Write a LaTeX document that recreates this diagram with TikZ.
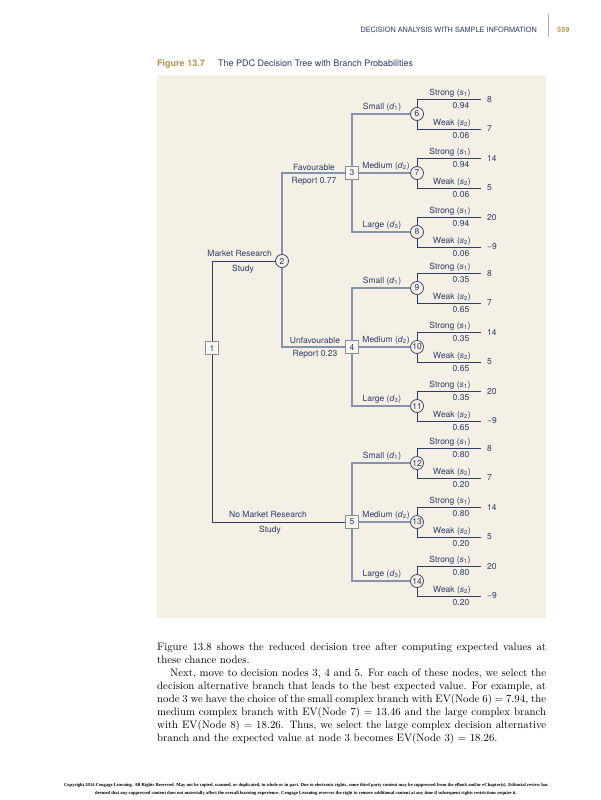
\documentclass[tikz,border=0pt]{standalone}
\usepackage{fontspec}
\newfontfamily\pdcsans{TeX Gyre Heros}
\newfontfamily\pdcfoot{Liberation Serif}
\usepackage{tikz}
\usetikzlibrary{positioning,calc}
\usepackage{xcolor}
\definecolor{pdcNavy}{HTML}{2E3B66}
\definecolor{pdcSlate}{HTML}{8593AE}
\definecolor{pdcGold}{HTML}{B39552}
\definecolor{pdcPanel}{HTML}{F5F0E6}
\definecolor{pdcBox}{HTML}{8B919C}
\definecolor{pdcRule}{HTML}{B0B0B0}
\newcommand\pdcsub[2]{(\textit{#1}\textsubscript{#2})}

\begin{document}
\begin{tikzpicture}[x=1pt,y=-1pt,
  every node/.style={font=\pdcsans\fontsize{8.5}{10}\selectfont,text=pdcNavy,inner sep=0pt},
  decbox/.style={draw=pdcBox,line width=0.9pt,fill=pdcPanel!50!white,minimum size=13pt},
  chance/.style={circle,draw=pdcNavy,line width=0.7pt,fill=pdcPanel,minimum size=13pt},
  lite/.style={draw=pdcSlate,line width=1.1pt},
  dark/.style={draw=pdcNavy,line width=0.9pt}]
\fill[white] (0,0) rectangle (600,800);
\useasboundingbox (0,0) rectangle (600,800);
% page header and caption
\node[anchor=base east,font=\pdcsans\fontsize{7.3}{9}\selectfont] (hdr) at (537,33) {DECISION ANALYSIS WITH SAMPLE INFORMATION};
\draw[pdcRule,line width=0.6pt] (548,14) -- (548,37);
\node[anchor=base west,font=\pdcsans\bfseries\fontsize{7.3}{9}\selectfont,text=pdcGold] (pg) at (557,33) {559};
\node[anchor=base west,font=\pdcsans\bfseries\fontsize{9}{11}\selectfont,text=pdcGold] (fig) at (157,66.5) {Figure 13.7};
\node[anchor=base west,font=\pdcsans\fontsize{9}{11}\selectfont] (cap) at (218,66.5) {The PDC Decision Tree with Branch Probabilities};
\fill[pdcPanel] (157,75) rectangle (546,618);
% first stages
\node[decbox] (d1) at (212,348) {1};
\node[chance] (c2) at (282,261) {2};
\node[decbox] (d3) at (352,173) {3};
\node[decbox] (d4) at (352,347) {4};
\node[decbox] (d5) at (352,522) {5};
\draw[dark] (d1) |- (c2);
\draw[dark] (d1) |- (d5);
\draw[lite] (c2) |- (d3);
\draw[lite] (c2) |- (d4);
\node[anchor=base east] (mr1) at (272,256.5) {Market Research};
\node[anchor=base] (mr2) at (243,271.5) {Study};
\node[anchor=base] (fav1) at (314,170.3) {Favourable};
\node[anchor=base] (fav2) at (314,183) {Report 0.77};
\node[anchor=base] (unf1) at (315,343) {Unfavourable};
\node[anchor=base] (unf2) at (315,356.5) {Report 0.23};
\node[anchor=base] (nmr1) at (268,517) {No Market Research};
\node[anchor=base] (nmr2) at (270,532) {Study};
% decisions, chance nodes and payoffs
\foreach \d/\yd/\ps/\pw [count=\g from 0] in {3/173/0.94/0.06,4/347/0.35/0.65,5/522/0.80/0.20}{
  \foreach \sz/\bx/\dy/\hi/\lo [count=\k from 0] in {Small \pdcsub{d}{1}/382/-59/8/7,Medium \pdcsub{d}{2}/386/0/14/5,Large \pdcsub{d}{3}/382/59/20/−9}{
    \pgfmathtruncatemacro\cn{6+3*\g+\k}
    \node[chance] (c\cn) at (417,\yd+\dy) {\cn};
    \ifnum\k=1 \draw[lite] (d\d) -- (c\cn); \else \draw[lite] (d\d) |- (c\cn); \fi
    \node[anchor=base] (lb\cn) at (\bx,\yd+\dy-4.5) {\sz};
    \coordinate (s\cn) at (481,\yd+\dy-14.5);
    \coordinate (w\cn) at (481,\yd+\dy+15);
    \draw[dark] (c\cn) |- (s\cn);
    \draw[dark] (c\cn) |- (w\cn);
    \node[anchor=base] (ls\cn) at (450,\yd+\dy-18.5) {Strong \pdcsub{s}{1}};
    \node[anchor=base] (ps\cn) at (461,\yd+\dy-6) {\ps};
    \node[anchor=base] (lw\cn) at (452,\yd+\dy+11) {Weak \pdcsub{s}{2}};
    \node[anchor=base] (pw\cn) at (461,\yd+\dy+24.5) {\pw};
    \node[anchor=west] (vs\cn) at (487,\yd+\dy-14.5) {\hi};
    \node[anchor=west] (vw\cn) at (487,\yd+\dy+15) {\lo};
  }
}
% body text and footer
\node[anchor=north west,text width=389pt,align=justify,font=\fontsize{10.8}{13}\selectfont,text=black] (body) at (157,643) {Figure 13.8 shows the reduced decision tree after computing expected values at\linebreak these chance nodes.\\
\hspace*{13pt}Next, move to decision nodes 3, 4 and 5. For each of these nodes, we select the\linebreak decision alternative branch that leads to the best expected value. For example, at\linebreak node 3 we have the choice of the small complex branch with EV(Node 6) $=$ 7.94, the\linebreak medium complex branch with EV(Node 7) $=$ 13.46 and the large complex branch\linebreak with EV(Node 8) $=$ 18.26. Thus, we select the large complex decision alternative\linebreak branch and the expected value at node 3 becomes EV(Node 3) $=$ 18.26.};
\node[align=center,font=\pdcfoot\bfseries\fontsize{4.6}{7.5}\selectfont,text=black] (foot) at (306,789.5) {Copyright 2014 Cengage Learning. All Rights Reserved. May not be copied, scanned, or duplicated, in whole or in part. Due to electronic rights, some third party content may be suppressed from the eBook and/or eChapter(s). Editorial review has\\deemed that any suppressed content does not materially affect the overall learning experience. Cengage Learning reserves the right to remove additional content at any time if subsequent rights restrictions require it.};
\end{tikzpicture}
\end{document}
